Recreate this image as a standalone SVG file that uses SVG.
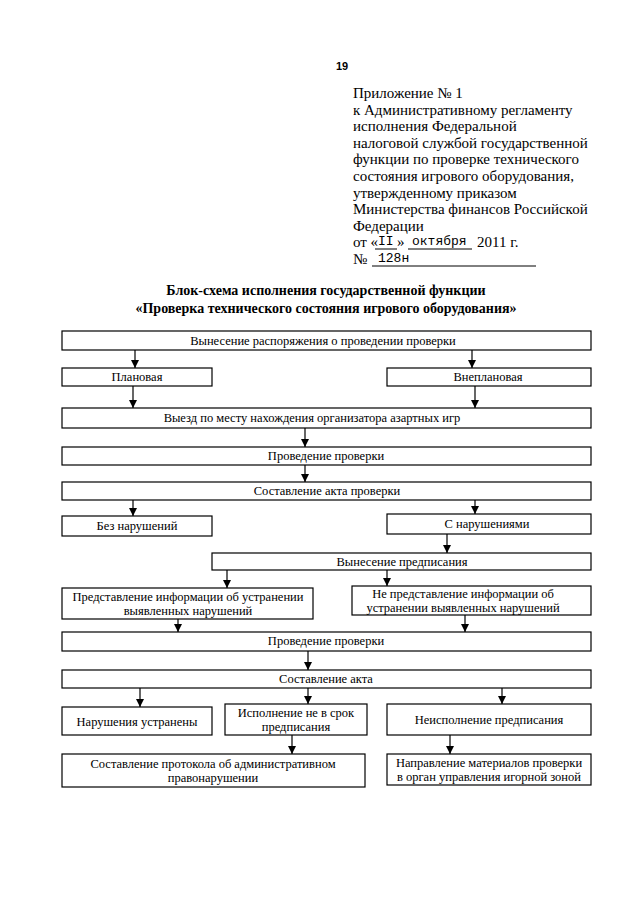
<svg xmlns="http://www.w3.org/2000/svg" width="640" height="905" viewBox="0 0 640 905">
<style>
.b{fill:#fff;stroke:#000;stroke-width:1.2}
.t{font-family:"Liberation Serif","Times New Roman",serif;font-size:12.5px;fill:#000;text-anchor:middle}
.h{font-family:"Liberation Serif","Times New Roman",serif;font-size:15px;fill:#000}
.m{font-family:"Liberation Mono","Courier New",monospace;font-size:13px;fill:#000}
.ti{font-family:"Liberation Serif","Times New Roman",serif;font-size:14px;font-weight:bold;fill:#000;text-anchor:middle}
.c{stroke:#000;stroke-width:1.2;fill:none;marker-end:url(#ah)}
.u{stroke:#000;stroke-width:1}
</style>
<defs>
<marker id="ah" viewBox="0 0 8 10" refX="8" refY="5" markerWidth="8" markerHeight="10" markerUnits="userSpaceOnUse" orient="auto">
<path d="M0,1 L8,5 L0,9 z" fill="#000"/>
</marker>
</defs>
<rect width="640" height="905" fill="#fff"/>
<g id="header">
<text x="336" y="70" style="font-family:'Liberation Sans',Arial,sans-serif;font-size:11px;font-weight:bold">19</text>
<text class="h" x="353" y="98">Приложение № 1</text>
<text class="h" x="353" y="114.6">к Административному регламенту</text>
<text class="h" x="353" y="131.2">исполнения Федеральной</text>
<text class="h" x="353" y="147.8">налоговой службой государственной</text>
<text class="h" x="353" y="164.4">функции по проверке технического</text>
<text class="h" x="353" y="181">состояния игрового оборудования,</text>
<text class="h" x="353" y="197.6">утвержденному приказом</text>
<text class="h" x="353" y="214.2">Министерства финансов Российской</text>
<text class="h" x="353" y="230.8">Федерации</text>
<text class="h" x="353" y="247.4">от «</text>
<text class="m" x="378" y="245">II</text>
<line class="u" x1="375" y1="249" x2="397" y2="249"/>
<text class="h" x="397" y="247.4">»</text>
<text class="m" x="412" y="245">октября</text>
<line class="u" x1="408" y1="249" x2="472" y2="249"/>
<text class="h" x="477" y="247.4">2011 г.</text>
<text class="h" x="353" y="264">№</text>
<text class="m" x="378" y="262">128н</text>
<line class="u" x1="372" y1="266" x2="536" y2="266"/>
</g>
<g id="title">
<text class="ti" x="326" y="295">Блок-схема исполнения государственной функции</text>
<text class="ti" x="326" y="313">«Проверка технического состояния игрового оборудования»</text>
</g>
<g id="connectors">
<line class="c" x1="135" y1="350" x2="135" y2="368"/>
<line class="c" x1="472" y1="350" x2="472" y2="368"/>
<line class="c" x1="133" y1="386" x2="133" y2="408"/>
<line class="c" x1="475" y1="386" x2="475" y2="408"/>
<line class="c" x1="305" y1="428" x2="305" y2="447"/>
<line class="c" x1="305" y1="465" x2="305" y2="482"/>
<line class="c" x1="133" y1="500" x2="133" y2="516"/>
<line class="c" x1="475" y1="500" x2="475" y2="514"/>
<line class="c" x1="447" y1="534" x2="447" y2="553"/>
<line class="c" x1="227" y1="570" x2="227" y2="588"/>
<line class="c" x1="387" y1="570" x2="387" y2="586"/>
<line class="c" x1="178" y1="619" x2="178" y2="632"/>
<line class="c" x1="465" y1="615" x2="465" y2="632"/>
<line class="c" x1="308" y1="651" x2="308" y2="670"/>
<line class="c" x1="140" y1="688" x2="140" y2="707"/>
<line class="c" x1="308" y1="688" x2="308" y2="704"/>
<line class="c" x1="502" y1="688" x2="502" y2="704"/>
<line class="c" x1="292" y1="735" x2="292" y2="754"/>
<line class="c" x1="450" y1="735" x2="450" y2="754"/>
</g>
<g id="n1"><rect class="b" x="62" y="331" width="529" height="19"/><text class="t" x="323" y="345">Вынесение распоряжения о проведении проверки</text></g>
<g id="n2"><rect class="b" x="62" y="368" width="150" height="18"/><text class="t" x="137" y="381">Плановая</text></g>
<g id="n3"><rect class="b" x="387" y="368" width="204" height="18"/><text class="t" x="488" y="381">Внеплановая</text></g>
<g id="n4"><rect class="b" x="62" y="408" width="529" height="20"/><text class="t" x="312" y="422">Выезд по месту нахождения организатора азартных игр</text></g>
<g id="n5"><rect class="b" x="62" y="447" width="529" height="18"/><text class="t" x="326" y="460">Проведение проверки</text></g>
<g id="n6"><rect class="b" x="62" y="482" width="529" height="18"/><text class="t" x="327" y="495">Составление акта проверки</text></g>
<g id="n7"><rect class="b" x="62" y="516" width="150" height="20"/><text class="t" x="137" y="530">Без нарушений</text></g>
<g id="n8"><rect class="b" x="387" y="514" width="204" height="20"/><text class="t" x="487" y="528">С нарушениями</text></g>
<g id="n9"><rect class="b" x="212" y="553" width="379" height="17"/><text class="t" x="402" y="566">Вынесение предписания</text></g>
<g id="n10"><rect class="b" x="62" y="588" width="251" height="31"/><text class="t" x="188" y="601">Представление информации об устранении</text><text class="t" x="188" y="615">выявленных нарушений</text></g>
<g id="n11"><rect class="b" x="352" y="586" width="239" height="29"/><text class="t" x="463" y="598">Не представление информации об</text><text class="t" x="463" y="612">устранении выявленных нарушений</text></g>
<g id="n12"><rect class="b" x="62" y="632" width="529" height="19"/><text class="t" x="326" y="645">Проведение проверки</text></g>
<g id="n13"><rect class="b" x="62" y="670" width="529" height="18"/><text class="t" x="326" y="683">Составление акта</text></g>
<g id="n14"><rect class="b" x="62" y="707" width="150" height="28"/><text class="t" x="137" y="726">Нарушения устранены</text></g>
<g id="n15"><rect class="b" x="225" y="704" width="142" height="31"/><text class="t" x="296" y="717">Исполнение не в срок</text><text class="t" x="296" y="731">предписания</text></g>
<g id="n16"><rect class="b" x="387" y="704" width="204" height="31"/><text class="t" x="489" y="724">Неисполнение предписания</text></g>
<g id="n17"><rect class="b" x="62" y="754" width="303" height="33"/><text class="t" x="213" y="768">Составление протокола об административном</text><text class="t" x="213" y="782">правонарушении</text></g>
<g id="n18"><rect class="b" x="387" y="754" width="204" height="31"/><text class="t" x="489" y="767">Направление материалов проверки</text><text class="t" x="489" y="781">в орган управления игорной зоной</text></g>
</svg>
